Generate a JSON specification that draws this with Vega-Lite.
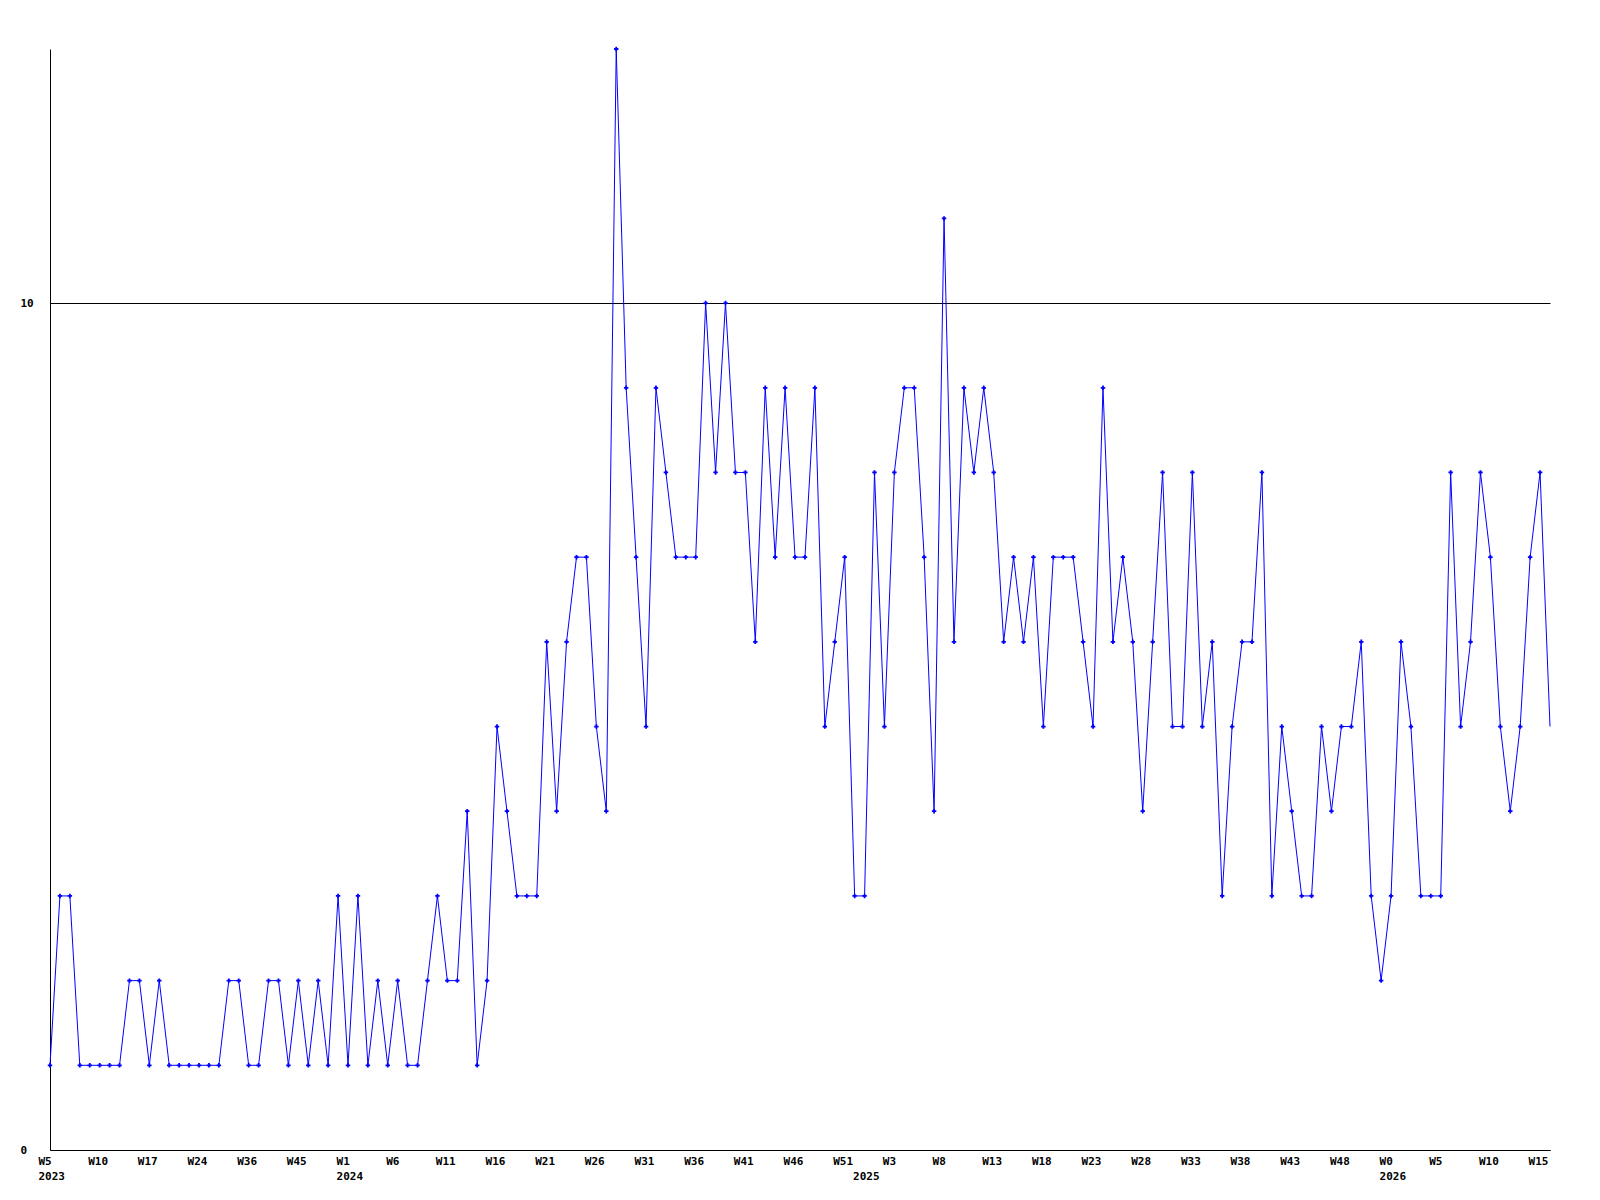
{
  "$schema": "https://vega.github.io/schema/vega-lite/v6.json",
  "width": 1500,
  "height": 1101,
  "autosize": {"type": "none"},
  "padding": {"left": 50, "top": 49, "right": 50, "bottom": 50},
  "background": "white",
  "config": {"view": {"stroke": null}},
  "data": {"values": [
    {"i":0,"key":"2023-W05","count":1},{"i":1,"key":"2023-W06","count":3},{"i":2,"key":"2023-W07","count":3},{"i":3,"key":"2023-W08","count":1},{"i":4,"key":"2023-W09","count":1},
    {"i":5,"key":"2023-W10","count":1},{"i":6,"key":"2023-W11","count":1},{"i":7,"key":"2023-W13","count":1},{"i":8,"key":"2023-W14","count":2},{"i":9,"key":"2023-W16","count":2},
    {"i":10,"key":"2023-W17","count":1},{"i":11,"key":"2023-W18","count":2},{"i":12,"key":"2023-W20","count":1},{"i":13,"key":"2023-W21","count":1},{"i":14,"key":"2023-W23","count":1},
    {"i":15,"key":"2023-W24","count":1},{"i":16,"key":"2023-W26","count":1},{"i":17,"key":"2023-W29","count":1},{"i":18,"key":"2023-W31","count":2},{"i":19,"key":"2023-W34","count":2},
    {"i":20,"key":"2023-W36","count":1},{"i":21,"key":"2023-W37","count":1},{"i":22,"key":"2023-W39","count":2},{"i":23,"key":"2023-W41","count":2},{"i":24,"key":"2023-W43","count":1},
    {"i":25,"key":"2023-W45","count":2},{"i":26,"key":"2023-W47","count":1},{"i":27,"key":"2023-W49","count":2},{"i":28,"key":"2023-W51","count":1},{"i":29,"key":"2023-W52","count":3},
    {"i":30,"key":"2024-W01","count":1},{"i":31,"key":"2024-W02","count":3},{"i":32,"key":"2024-W03","count":1},{"i":33,"key":"2024-W04","count":2},{"i":34,"key":"2024-W05","count":1},
    {"i":35,"key":"2024-W06","count":2},{"i":36,"key":"2024-W07","count":1},{"i":37,"key":"2024-W08","count":1},{"i":38,"key":"2024-W09","count":2},{"i":39,"key":"2024-W10","count":3},
    {"i":40,"key":"2024-W11","count":2},{"i":41,"key":"2024-W12","count":2},{"i":42,"key":"2024-W13","count":4},{"i":43,"key":"2024-W14","count":1},{"i":44,"key":"2024-W15","count":2},
    {"i":45,"key":"2024-W16","count":5},{"i":46,"key":"2024-W17","count":4},{"i":47,"key":"2024-W18","count":3},{"i":48,"key":"2024-W19","count":3},{"i":49,"key":"2024-W20","count":3},
    {"i":50,"key":"2024-W21","count":6},{"i":51,"key":"2024-W22","count":4},{"i":52,"key":"2024-W23","count":6},{"i":53,"key":"2024-W24","count":7},{"i":54,"key":"2024-W25","count":7},
    {"i":55,"key":"2024-W26","count":5},{"i":56,"key":"2024-W27","count":4},{"i":57,"key":"2024-W28","count":13},{"i":58,"key":"2024-W29","count":9},{"i":59,"key":"2024-W30","count":7},
    {"i":60,"key":"2024-W31","count":5},{"i":61,"key":"2024-W32","count":9},{"i":62,"key":"2024-W33","count":8},{"i":63,"key":"2024-W34","count":7},{"i":64,"key":"2024-W35","count":7},
    {"i":65,"key":"2024-W36","count":7},{"i":66,"key":"2024-W37","count":10},{"i":67,"key":"2024-W38","count":8},{"i":68,"key":"2024-W39","count":10},{"i":69,"key":"2024-W40","count":8},
    {"i":70,"key":"2024-W41","count":8},{"i":71,"key":"2024-W42","count":6},{"i":72,"key":"2024-W43","count":9},{"i":73,"key":"2024-W44","count":7},{"i":74,"key":"2024-W45","count":9},
    {"i":75,"key":"2024-W46","count":7},{"i":76,"key":"2024-W47","count":7},{"i":77,"key":"2024-W48","count":9},{"i":78,"key":"2024-W49","count":5},{"i":79,"key":"2024-W50","count":6},
    {"i":80,"key":"2024-W51","count":7},{"i":81,"key":"2024-W52","count":3},{"i":82,"key":"2025-W00","count":3},{"i":83,"key":"2025-W01","count":8},{"i":84,"key":"2025-W02","count":5},
    {"i":85,"key":"2025-W03","count":8},{"i":86,"key":"2025-W04","count":9},{"i":87,"key":"2025-W05","count":9},{"i":88,"key":"2025-W06","count":7},{"i":89,"key":"2025-W07","count":4},
    {"i":90,"key":"2025-W08","count":11},{"i":91,"key":"2025-W09","count":6},{"i":92,"key":"2025-W10","count":9},{"i":93,"key":"2025-W11","count":8},{"i":94,"key":"2025-W12","count":9},
    {"i":95,"key":"2025-W13","count":8},{"i":96,"key":"2025-W14","count":6},{"i":97,"key":"2025-W15","count":7},{"i":98,"key":"2025-W16","count":6},{"i":99,"key":"2025-W17","count":7},
    {"i":100,"key":"2025-W18","count":5},{"i":101,"key":"2025-W19","count":7},{"i":102,"key":"2025-W20","count":7},{"i":103,"key":"2025-W21","count":7},{"i":104,"key":"2025-W22","count":6},
    {"i":105,"key":"2025-W23","count":5},{"i":106,"key":"2025-W24","count":9},{"i":107,"key":"2025-W25","count":6},{"i":108,"key":"2025-W26","count":7},{"i":109,"key":"2025-W27","count":6},
    {"i":110,"key":"2025-W28","count":4},{"i":111,"key":"2025-W29","count":6},{"i":112,"key":"2025-W30","count":8},{"i":113,"key":"2025-W31","count":5},{"i":114,"key":"2025-W32","count":5},
    {"i":115,"key":"2025-W33","count":8},{"i":116,"key":"2025-W34","count":5},{"i":117,"key":"2025-W35","count":6},{"i":118,"key":"2025-W36","count":3},{"i":119,"key":"2025-W37","count":5},
    {"i":120,"key":"2025-W38","count":6},{"i":121,"key":"2025-W39","count":6},{"i":122,"key":"2025-W40","count":8},{"i":123,"key":"2025-W41","count":3},{"i":124,"key":"2025-W42","count":5},
    {"i":125,"key":"2025-W43","count":4},{"i":126,"key":"2025-W44","count":3},{"i":127,"key":"2025-W45","count":3},{"i":128,"key":"2025-W46","count":5},{"i":129,"key":"2025-W47","count":4},
    {"i":130,"key":"2025-W48","count":5},{"i":131,"key":"2025-W49","count":5},{"i":132,"key":"2025-W50","count":6},{"i":133,"key":"2025-W51","count":3},{"i":134,"key":"2025-W52","count":2},
    {"i":135,"key":"2026-W00","count":3},{"i":136,"key":"2026-W01","count":6},{"i":137,"key":"2026-W02","count":5},{"i":138,"key":"2026-W03","count":3},{"i":139,"key":"2026-W04","count":3},
    {"i":140,"key":"2026-W05","count":3},{"i":141,"key":"2026-W06","count":8},{"i":142,"key":"2026-W07","count":5},{"i":143,"key":"2026-W08","count":6},{"i":144,"key":"2026-W09","count":8},
    {"i":145,"key":"2026-W10","count":7},{"i":146,"key":"2026-W11","count":5},{"i":147,"key":"2026-W12","count":4},{"i":148,"key":"2026-W13","count":5},{"i":149,"key":"2026-W14","count":7},
    {"i":150,"key":"2026-W15","count":8},{"i":151,"key":"2026-W16","count":5}
  ]},
  "layer": [
    {
      "mark": {"type": "line", "color": "#0000ff", "strokeWidth": 1, "interpolate": "linear"},
      "encoding": {
        "x": {
          "field": "key", "type": "ordinal",
          "scale": {"type": "point", "padding": 0},
          "axis": {
            "orient": "bottom",
            "title": null,
            "values": ["2023-W05","2023-W10","2023-W17","2023-W24","2023-W36","2023-W45","2024-W01","2024-W06","2024-W11","2024-W16","2024-W21","2024-W26","2024-W31","2024-W36","2024-W41","2024-W46","2024-W51","2025-W03","2025-W08","2025-W13","2025-W18","2025-W23","2025-W28","2025-W33","2025-W38","2025-W43","2025-W48","2026-W00","2026-W05","2026-W10","2026-W15"],
            "labelExpr": "'W' + toNumber(slice(datum.value, 6))",
            "labelAngle": 0,
            "labelAlign": "left",
            "labelBaseline": "top",
            "labelOffset": -12,
            "labelPadding": 5,
            "labelFont": "DejaVu Sans Mono",
            "labelFontWeight": "bold",
            "labelFontSize": 11,
            "labelColor": "#000000",
            "labelOverlap": false,
            "labelFlush": false,
            "ticks": false,
            "grid": false,
            "domain": true,
            "domainColor": "#000000",
            "domainWidth": 1
          }
        },
        "y": {
          "field": "count", "type": "quantitative",
          "scale": {"domain": [0, 13], "nice": false, "zero": true},
          "axis": {
            "title": null,
            "values": [0, 10],
            "format": "d",
            "labelAlign": "left",
            "labelBaseline": "middle",
            "labelPadding": 30,
            "labelFont": "DejaVu Sans Mono",
            "labelFontWeight": "bold",
            "labelFontSize": 11,
            "labelColor": "#000000",
            "ticks": false,
            "grid": true,
            "gridColor": "#000000",
            "gridOpacity": 1,
            "gridWidth": 1,
            "domain": true,
            "domainColor": "#000000",
            "domainWidth": 1
          }
        }
      }
    },
    {
      "transform": [{"filter": "datum.i < 151"}],
      "mark": {"type": "point", "shape": "cross", "filled": true, "size": 20, "color": "#0000ff", "opacity": 1},
      "encoding": {
        "x": {
          "field": "key", "type": "ordinal",
          "scale": {"type": "point", "padding": 0},
          "axis": {
            "orient": "bottom",
            "title": null,
            "values": ["2023-W05","2024-W01","2025-W00","2026-W00"],
            "labelExpr": "slice(datum.value, 0, 4)",
            "labelAngle": 0,
            "labelAlign": "left",
            "labelBaseline": "top",
            "labelOffset": -12,
            "labelPadding": 20,
            "labelFont": "DejaVu Sans Mono",
            "labelFontWeight": "bold",
            "labelFontSize": 11,
            "labelColor": "#000000",
            "labelOverlap": false,
            "labelFlush": false,
            "ticks": false,
            "grid": false,
            "domain": false
          }
        },
        "y": {"field": "count", "type": "quantitative"}
      }
    }
  ],
  "resolve": {"axis": {"x": "independent"}}
}
